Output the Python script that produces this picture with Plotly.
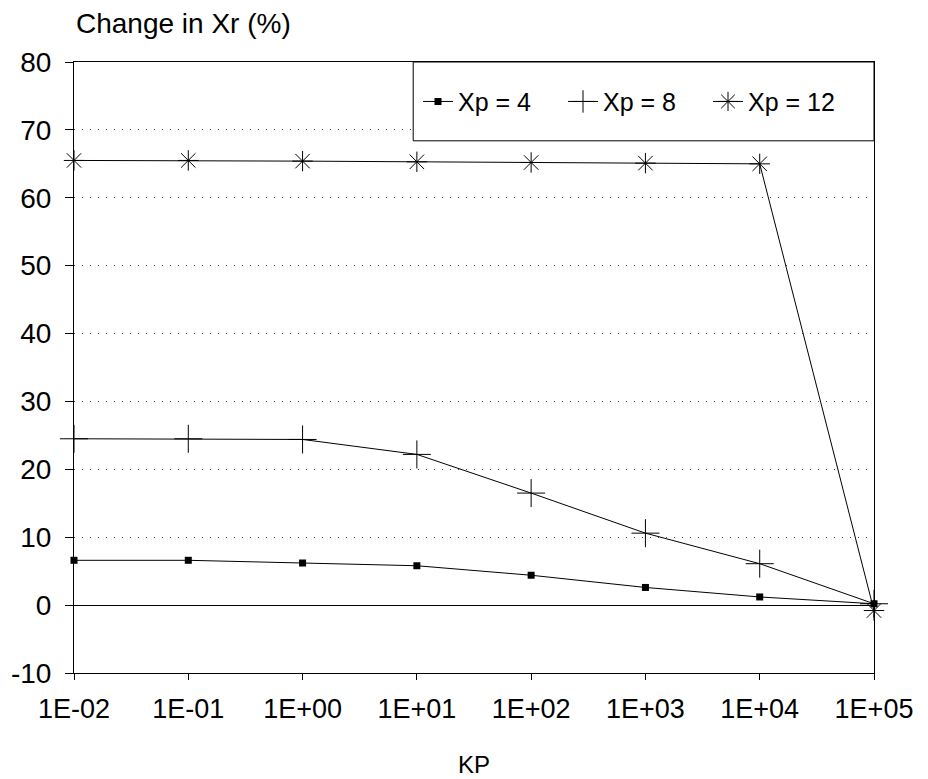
import plotly.graph_objects as go

kp_labels = ["1E-02", "1E-01", "1E+00", "1E+01", "1E+02", "1E+03", "1E+04", "1E+05"]
xp4 = [6.6, 6.6, 6.2, 5.8, 4.4, 2.6, 1.2, 0.2]
xp8 = [24.5, 24.5, 24.4, 22.2, 16.5, 10.6, 6.1, 0.2]
xp12 = [65.5, 65.5, 65.4, 65.3, 65.2, 65.1, 65.0, -0.8]
y_ticks = [-10, 0, 10, 20, 30, 40, 50, 60, 70, 80]
y_tick_text = ["-10", "0", "10", "20", "30", "40", "50", "60", "70", "80"]

FONT = "Liberation Sans, Arial, Helvetica, sans-serif"

fig = go.Figure()
fig.add_trace(go.Scatter(
    x=kp_labels, y=xp4, name="Xp = 4", mode="lines+markers",
    line=dict(color="black", width=1),
    marker=dict(symbol="square", size=7, color="black"),
    cliponaxis=False,
))
fig.add_trace(go.Scatter(
    x=kp_labels, y=xp8, name="Xp = 8", mode="lines+markers",
    line=dict(color="black", width=1),
    marker=dict(symbol="cross-thin-open", size=20, color="black",
                line=dict(color="black", width=1)),
    cliponaxis=False,
))
fig.add_trace(go.Scatter(
    x=kp_labels, y=xp12, name="Xp = 12", mode="lines+markers",
    line=dict(color="black", width=1),
    marker=dict(symbol="asterisk-open", size=17, color="black",
                line=dict(color="black", width=1)),
    cliponaxis=False,
))

fig.update_layout(
    width=928, height=779,
    margin=dict(l=66, r=62, t=54, b=114),
    paper_bgcolor="white", plot_bgcolor="white",
    font=dict(family=FONT, color="black", size=24),
    legend=dict(
        orientation="h", x=0.43, xanchor="left", y=0.935, yanchor="middle",
        borderwidth=0, bgcolor="rgba(0,0,0,0)",
        font=dict(size=25), entrywidth=100, entrywidthmode="pixels",
        itemwidth=30,
    ),
    showlegend=True,
)
# legend frame
fig.add_shape(type="rect", xref="paper", yref="paper",
              x0=0.424, x1=1.0, y0=0.871, y1=1.0,
              line=dict(color="black", width=1), fillcolor="white", layer="above")
fig.update_xaxes(
    type="category", range=[0, 7], automargin=False,
    showline=True, mirror=True, linecolor="black", linewidth=1,
    showgrid=False, ticks="outside", ticklen=6, tickcolor="black",
    ticklabelstandoff=6,
    tickfont=dict(size=27, family=FONT),
)
fig.update_yaxes(
    range=[-10, 80], tickvals=y_ticks, ticktext=y_tick_text, automargin=False,
    showline=True, mirror=True, linecolor="black", linewidth=1,
    showgrid=True, gridcolor="#444", griddash="1px,7px", gridwidth=1,
    zeroline=True, zerolinecolor="black", zerolinewidth=1,
    ticks="outside", ticklen=8, tickcolor="black",
    ticklabelstandoff=8,
    tickfont=dict(size=28, family=FONT),
)
fig.add_annotation(
    text="Change in Xr (%)", xref="paper", yref="paper",
    x=0, y=1, xanchor="left", yanchor="middle", yshift=39, xshift=0,
    showarrow=False, font=dict(size=28, family=FONT),
)
fig.add_annotation(
    text="KP", xref="paper", yref="paper",
    x=0.5, y=0, xanchor="center", yanchor="middle", yshift=-91,
    showarrow=False, font=dict(size=24, family=FONT),
)
fig.write_html("out.html")
